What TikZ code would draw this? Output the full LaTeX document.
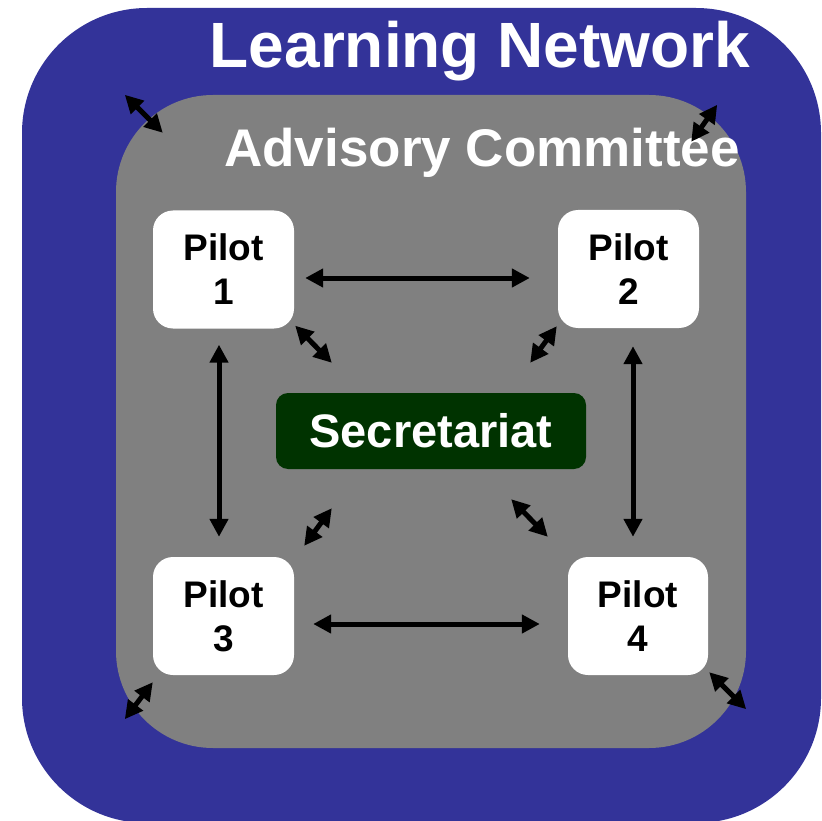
\documentclass[tikz,border=0pt]{standalone}
\usepackage{fontspec}
\setmainfont{Liberation Sans}
\usetikzlibrary{arrows.meta}
\definecolor{netblue}{HTML}{333399}
\definecolor{boardgray}{HTML}{808080}
\definecolor{secgreen}{HTML}{003300}

\begin{document}
\begin{tikzpicture}[x=1pt, y=-1pt,
    layer/.style={fill=#1, inner sep=0pt},
    title/.style={anchor=base, text=white, font=\fontsize{#1}{#1}\selectfont\bfseries},
    pilot/.style={fill=white, rounded corners=20pt, minimum width=141pt, minimum height=118pt,
                  inner sep=0pt, align=center, font=\fontsize{37}{44}\selectfont\bfseries},
    arr/.style={{Triangle[length=18pt,width=18pt]}-{Triangle[length=18pt,width=18pt]},
                line width=5pt, black},
]
\useasboundingbox[fill=white] (0,0) rectangle (822,821);

% nested groups
\node[layer=netblue, rounded corners=125pt, minimum width=799pt, minimum height=815pt] (net) at (421.5,415.5) {};
\node[layer=boardgray, rounded corners=97pt, minimum width=630pt, minimum height=653pt] (board) at (431,421.5) {};
\node[title=64] (nettitle) at (480,68) {Learning Network};
\node[title=53] (boardtitle) at (482,167) {Advisory Committee};

% pilots and secretariat
\node[pilot] (p1) at (223.5,269.5) {Pilot\\1};
\node[pilot] (p2) at (628.5,269)   {Pilot\\2};
\node[pilot] (p3) at (223.5,616)   {Pilot\\3};
\node[pilot, minimum width=140pt] (p4) at (638,616) {Pilot\\4};
\node[fill=secgreen, rounded corners=12pt, minimum width=310pt, minimum height=76pt, inner sep=0pt,
      text=white, font=\fontsize{47}{47}\selectfont\bfseries] (sec) at (431,431) {Secretariat};

% pilot to pilot
\draw[arr] ([shift={(11,8.5)}]p1.east) -- ([shift={(-28,9)}]p2.west);
\draw[arr] ([shift={(19,8)}]p3.east) -- ([shift={(-28,8)}]p4.west);
\draw[arr] ([shift={(-4.5,16)}]p1.south) -- ([shift={(-4.5,-20)}]p3.north);
\draw[arr] ([shift={(4.5,18)}]p2.south) -- ([shift={(-5,-20)}]p4.north);

% pilots to secretariat
\draw[arr] ([shift={(1,-3)}]p1.south east) -- ([shift={(56,-30)}]sec.north west);
\draw[arr] ([shift={(-1,-2)}]p2.south west) -- ([shift={(-56,-30)}]sec.north east);
\draw[arr] ([shift={(10,-11)}]p3.north east) -- ([shift={(56,39)}]sec.south west);
\draw[arr] ([shift={(-20,-20)}]p4.north west) -- ([shift={(-75,30)}]sec.south east);

% committee to network
\draw[arr] ([shift={(9,0)}]board.north west) -- ([shift={(47,38)}]board.north west);
\draw[arr] ([shift={(-29,10)}]board.north east) -- ([shift={(-55,47)}]board.north east);
\draw[arr] ([shift={(0,7)}]p3.south west) -- ([shift={(9,-29)}]board.south west);
\draw[arr] ([shift={(1,-3)}]p4.south east) -- ([shift={(0,-39)}]board.south east);
\end{tikzpicture}
\end{document}
